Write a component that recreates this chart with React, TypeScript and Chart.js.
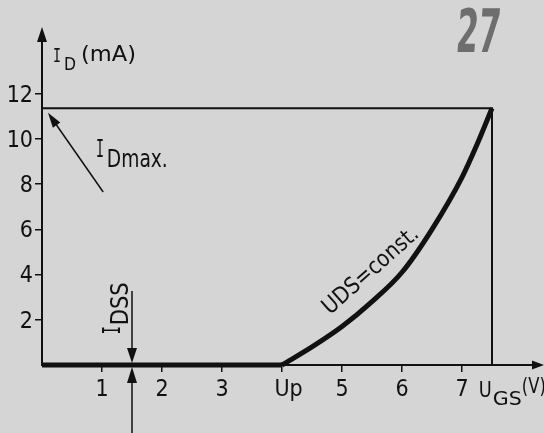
import React, { useEffect, useRef } from "react";
import { Chart, registerables } from "chart.js";

Chart.register(...registerables);

// ---- data ----
const flatVoltage = [0, 4];
const flatCurrent = [0, 0];
const gateVoltage = [4, 4.5, 5, 5.5, 6, 6.5, 7, 7.25, 7.5];
const drainCurrent = [0, 0.8, 1.7, 2.8, 4.1, 6.0, 8.3, 9.75, 11.35];
const idMaxValue = 11.35;
const ugsAtIdMax = 7.5;
const idssVoltage = 1.5;
const xTickValues = [1, 2, 3, 4, 5, 6, 7];
const xTickLabels = ["1", "2", "3", "Up", "5", "6", "7"];
const yTickValues = [2, 4, 6, 8, 10, 12];
const yTickLabels = ["2", "4", "6", "8", "10", "12"];

const FONT = '"Liberation Sans Narrow", "DejaVu Sans Condensed", "Liberation Sans", sans-serif';
const MONO = '"DejaVu Sans Mono", "Liberation Mono", monospace';
const INK = "#111111";
const BG = "#d5d5d5";

function arrowHead(ctx: CanvasRenderingContext2D, tipX: number, tipY: number, fromX: number, fromY: number, len: number, width: number) {
  const ang = Math.atan2(tipY - fromY, tipX - fromX);
  const bx = tipX - Math.cos(ang) * len;
  const by = tipY - Math.sin(ang) * len;
  const nx = -Math.sin(ang) * width / 2;
  const ny = Math.cos(ang) * width / 2;
  ctx.beginPath();
  ctx.moveTo(tipX, tipY);
  ctx.lineTo(bx + nx, by + ny);
  ctx.lineTo(bx - nx, by - ny);
  ctx.closePath();
  ctx.fill();
}

function seg(ctx: CanvasRenderingContext2D, x1: number, y1: number, x2: number, y2: number) {
  ctx.beginPath();
  ctx.moveTo(x1, y1);
  ctx.lineTo(x2, y2);
  ctx.stroke();
}

// draw text squeezed/stretched horizontally to a target width
function txtFit(ctx: CanvasRenderingContext2D, s: string, x: number, y: number, size: number, width: number, weight = "normal", family = FONT) {
  ctx.save();
  ctx.font = `${weight} ${size}px ${family}`;
  const w = ctx.measureText(s).width || 1;
  ctx.translate(x, y);
  ctx.scale(width / w, 1);
  ctx.fillText(s, 0, 0);
  ctx.restore();
}

const decorPlugin = {
  id: "decor",
  beforeDraw(chart: any) {
    const ctx = chart.ctx as CanvasRenderingContext2D;
    ctx.save();
    ctx.fillStyle = BG;
    ctx.fillRect(0, 0, chart.width, chart.height);
    ctx.restore();
  },
  afterDraw(chart: any) {
    const ctx = chart.ctx as CanvasRenderingContext2D;
    const xs = chart.scales.x;
    const ys = chart.scales.y;
    const px = (v: number) => xs.getPixelForValue(v);
    const py = (v: number) => ys.getPixelForValue(v);
    const x0 = px(0);
    const y0 = py(0);
    const top = chart.chartArea.top;
    ctx.save();
    ctx.strokeStyle = INK;
    ctx.fillStyle = INK;
    ctx.textBaseline = "alphabetic";
    ctx.textAlign = "left";

    // axes
    ctx.lineWidth = 2;
    seg(ctx, x0, y0 + 1, x0, top + 12);
    arrowHead(ctx, x0, top - 1, x0, y0, 15, 10);
    seg(ctx, x0, y0, chart.width - 8, y0);
    arrowHead(ctx, chart.width, y0, x0, y0, 12, 9);

    // I_Dmax arrow
    ctx.lineWidth = 1.5;
    const ax1 = px(1.02), ay1 = py(7.65), ax2 = px(0.1), ay2 = py(11.15);
    seg(ctx, ax1, ay1, ax2 + (ax1 - ax2) * 0.1, ay2 + (ay1 - ay2) * 0.1);
    arrowHead(ctx, ax2, ay2, ax1, ay1, 15, 9);

    // I_DSS marker
    const ix = px(idssVoltage);
    seg(ctx, ix, py(3.27), ix, y0 - 10);
    seg(ctx, ix, y0 + 10, ix, chart.height);
    arrowHead(ctx, ix, y0 - 2, ix, y0 - 30, 15, 10);
    arrowHead(ctx, ix, y0 + 2, ix, y0 + 30, 16, 10);

    // axis title I_D (mA)
    txtFit(ctx, "I", x0 + 11, 62, 20, 8, "normal", MONO);
    txtFit(ctx, "D", x0 + 22, 70, 18, 12);
    txtFit(ctx, "(mA)", x0 + 39, 61, 21, 55);

    // I_Dmax. label
    txtFit(ctx, "I", px(0.9), 157, 24, 8, "normal", MONO);
    txtFit(ctx, "Dmax.", px(1.08), 167, 25, 61);

    // I_DSS label (rotated)
    ctx.save();
    ctx.translate(ix - 12, py(1.4));
    ctx.rotate(-Math.PI / 2);
    txtFit(ctx, "I", -1, 0, 24, 8, "normal", MONO);
    txtFit(ctx, "DSS", 8, 8, 24, 43);
    ctx.restore();

    // UDS=const. along the curve
    ctx.save();
    ctx.translate(px(4.8), py(2.2));
    ctx.rotate(-41.4 * Math.PI / 180);
    txtFit(ctx, "UDS=const.", 0, 0, 23, 120);
    ctx.restore();

    // U_GS (V)
    const ux = px(7.28);
    txtFit(ctx, "U", ux, y0 + 32, 22, 13);
    txtFit(ctx, "GS", ux + 14, y0 + 40, 20, 29);
    txtFit(ctx, "(V)", ux + 43, y0 + 28, 21, 24);

    // page number
    ctx.save();
    ctx.fillStyle = "#6e6e6e";
    ctx.translate(455, 52);
    ctx.transform(1, 0, -0.08, 1, 0, 0);
    txtFit(ctx, "27", 0, 0, 60, 44, "bold");
    ctx.restore();

    ctx.restore();
  },
};

export default function App() {
  const ref = useRef<HTMLCanvasElement | null>(null);
  useEffect(() => {
    if (!ref.current) return;
    const flat = flatVoltage.map((v, i) => ({ x: v, y: flatCurrent[i] }));
    const curve = gateVoltage.map((v, i) => ({ x: v, y: drainCurrent[i] }));
    const limit = [
      { x: 0, y: idMaxValue },
      { x: ugsAtIdMax, y: idMaxValue },
      { x: ugsAtIdMax, y: 0 },
    ];
    const tickFont = { family: FONT, size: 23 };
    const chart = new Chart(ref.current, {
      type: "line",
      data: {
        datasets: [
          { data: limit, borderColor: INK, borderWidth: 2, pointRadius: 0, tension: 0, clip: false } as any,
          { data: flat, borderColor: INK, borderWidth: 5, pointRadius: 0, tension: 0, clip: false, borderCapStyle: "butt" } as any,
          {
            data: curve,
            borderColor: INK,
            borderWidth: 5,
            pointRadius: 0,
            cubicInterpolationMode: "monotone",
            borderCapStyle: "butt",
            clip: false,
          } as any,
        ],
      },
      options: {
        responsive: false,
        animation: false,
        layout: { padding: { top: 28, right: 4, left: 0, bottom: 0 } },
        plugins: { legend: { display: false }, tooltip: { enabled: false }, title: { display: false } },
        scales: {
          x: {
            type: "linear",
            min: 0,
            max: 8.3,
            afterBuildTicks: (s: any) => {
              s.ticks = xTickValues.map((v) => ({ value: v }));
            },
            afterFit: (s: any) => {
              s.height = 68;
            },
            grid: { drawOnChartArea: false, drawTicks: true, tickLength: 7, color: INK, lineWidth: 1.5 },
            border: { display: false },
            ticks: {
              autoSkip: false,
              maxRotation: 0,
              padding: 4,
              color: INK,
              font: tickFont,
              callback: (v: any) => {
                const i = xTickValues.indexOf(Number(v));
                if (i < 0) return "";
                const l = xTickLabels[i];
                return l.length > 1 ? "  " + l : l;
              },
            },
          },
          y: {
            type: "linear",
            min: 0,
            max: 14.9,
            afterBuildTicks: (s: any) => {
              s.ticks = yTickValues.map((v) => ({ value: v }));
            },
            afterFit: (s: any) => {
              s.width = 42;
            },
            grid: { drawOnChartArea: false, drawTicks: true, tickLength: 7, color: INK, lineWidth: 1.5 },
            border: { display: false },
            ticks: {
              autoSkip: false,
              padding: 2,
              labelOffset: 2,
              color: INK,
              font: tickFont,
              callback: (v: any) => {
                const i = yTickValues.indexOf(Number(v));
                return i >= 0 ? yTickLabels[i] : "";
              },
            },
          },
        },
      } as any,
      plugins: [decorPlugin as any],
    });
    return () => chart.destroy();
  }, []);
  return (
    <div style={{ position: "fixed", left: 0, top: 0, width: 544, height: 433 }}>
      <canvas ref={ref} width={544} height={433} style={{ display: "block" }} />
    </div>
  );
}
